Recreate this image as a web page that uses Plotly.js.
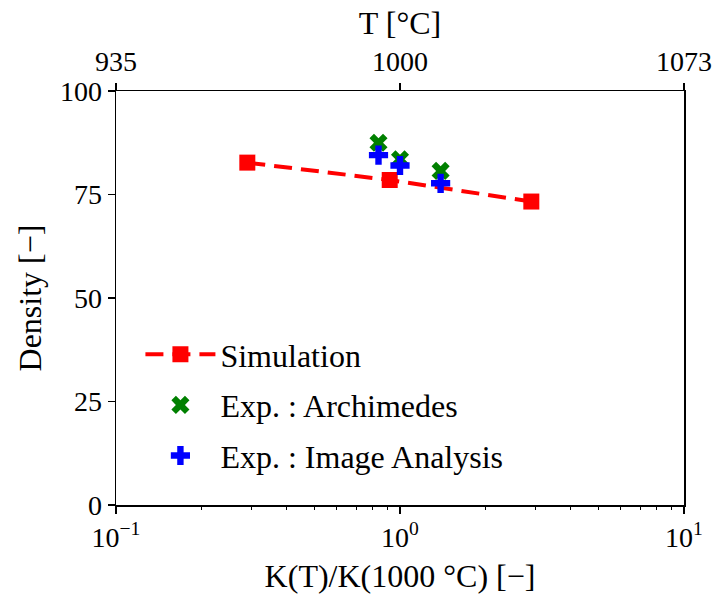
<!DOCTYPE html>
<html>
<head>
<meta charset="utf-8">
<script src="https://cdn.plot.ly/plotly-3.0.1.min.js"></script>
<style>html,body{margin:0;padding:0;background:#fff;}#chart{width:716px;height:600px;}</style>
</head>
<body>
<div id="chart"></div>
<script>
const simX = [0.29, 0.92, 2.9];
const simY = [82.7, 78.5, 73.3];
const archX = [0.84, 1.0, 1.39];
const archY = [87.5, 83.5, 80.7];
const imgX = [0.84, 1.0, 1.39];
const imgY = [84.5, 82.0, 77.7];
const bottomTickVals = [0.1, 1, 10];
const bottomTickText = ['10<sup>−1</sup>', '10<sup>0</sup>', '10<sup>1</sup>'];
const minorTickVals = [0.2, 0.3, 0.4, 0.5, 0.6, 0.7, 0.8, 0.9, 2, 3, 4, 5, 6, 7, 8, 9];
const topTickVals = [0.1, 1, 10];
const topTickText = ['935', '1000', '1073'];
const yTickVals = [0, 25, 50, 75, 100];

const F = 'Liberation Serif';
const FS = 28;
const FT = 32;
const traces = [
  {x: simX, y: simY, name: 'Simulation', legendgroup: 'a', mode: 'lines+markers', type: 'scatter',
   line: {color: '#ff0000', width: 4, dash: '18px,9px'},
   marker: {symbol: 'square', size: 16, color: '#ff0000'}},
  {x: archX, y: archY, name: 'Exp. : Archimedes', legendgroup: 'b', mode: 'markers', type: 'scatter',
   marker: {symbol: 'x', size: 16, color: '#008000'}},
  {x: imgX, y: imgY, name: 'Exp. : Image Analysis', legendgroup: 'c', mode: 'markers', type: 'scatter',
   marker: {symbol: 'cross', size: 16, color: '#0000ff'}},
  {x: [1], y: [null], xaxis: 'x2', yaxis: 'y', showlegend: false, hoverinfo: 'skip', mode: 'markers', type: 'scatter'},
  {x: [1], y: [null], xaxis: 'x3', yaxis: 'y', showlegend: false, hoverinfo: 'skip', mode: 'markers', type: 'scatter'}
];
const layout = {
  width: 716, height: 600,
  margin: {l: 116, r: 32, t: 91, b: 95},
  paper_bgcolor: '#fff', plot_bgcolor: '#fff',
  font: {family: F, size: FS, color: '#000'},
  showlegend: true,
  legend: {x: 0.043, y: 0.43, xanchor: 'left', yanchor: 'top', bgcolor: 'rgba(0,0,0,0)',
           font: {family: F, size: FT}, tracegroupgap: 6, itemwidth: 70},
  xaxis: {type: 'log', range: [-1, 1], tickvals: bottomTickVals, ticktext: bottomTickText,
          ticks: 'outside', ticklen: 7, tickwidth: 1.2, tickcolor: '#000',
          showline: true, linecolor: '#000', linewidth: 1.5, mirror: false, showgrid: false, zeroline: false,
          title: {text: 'K(T)/K(1000 °C) [−]', font: {family: F, size: FT}, standoff: 12},
          tickfont: {family: F, size: FS}},
  xaxis3: {type: 'log', range: [-1, 1], overlaying: 'x', side: 'bottom', anchor: 'y',
           tickvals: minorTickVals, showticklabels: false,
           ticks: 'outside', ticklen: 4, tickwidth: 1, tickcolor: '#000',
           showline: false, showgrid: false, zeroline: false},
  xaxis2: {type: 'log', range: [-1, 1], overlaying: 'x', side: 'top', anchor: 'y',
           tickvals: topTickVals, ticktext: topTickText,
           ticks: 'outside', ticklen: 7, tickwidth: 1.2, tickcolor: '#000',
           showline: true, linecolor: '#000', linewidth: 1.5, showgrid: false, zeroline: false,
           title: {text: 'T [°C]', font: {family: F, size: FT}, standoff: 2},
           tickfont: {family: F, size: FS}},
  yaxis: {range: [0, 100], tickvals: yTickVals, ticks: 'outside', ticklen: 7, tickwidth: 1.2, tickcolor: '#000',
          showline: true, linecolor: '#000', linewidth: 1.5, mirror: true, showgrid: false, zeroline: false,
          title: {text: 'Density [−]', font: {family: F, size: FT}, standoff: 8},
          tickfont: {family: F, size: FS}}
};
Plotly.newPlot('chart', traces, layout, {displayModeBar: false, staticPlot: true});
</script>
</body>
</html>
